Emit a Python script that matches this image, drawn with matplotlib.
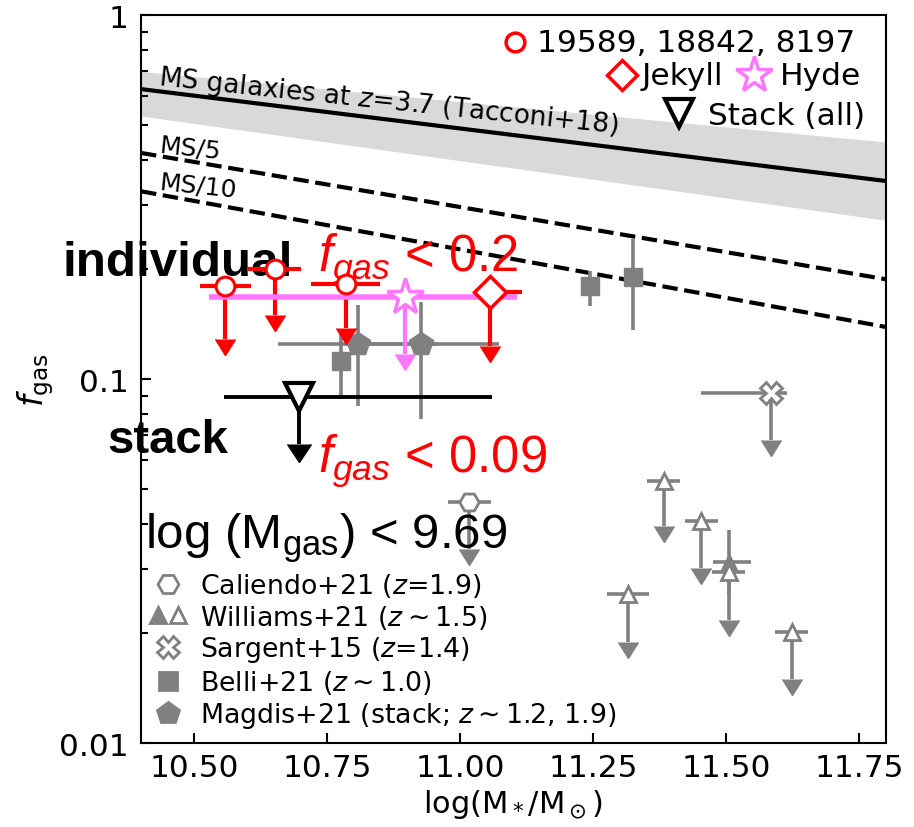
import numpy as np
import matplotlib
matplotlib.use("Agg")
import matplotlib.pyplot as plt
from matplotlib.lines import Line2D
from matplotlib.markers import CARETDOWNBASE
from matplotlib.legend_handler import HandlerTuple

plt.rcParams['mathtext.fontset'] = 'dejavusans'
# 'custom' math set is only used by the big annotation texts
plt.rcParams['mathtext.rm'] = 'Liberation Sans'
plt.rcParams['mathtext.it'] = 'Liberation Sans:italic'
plt.rcParams['mathtext.bf'] = 'Liberation Sans:bold'

GREY = '#808080'
RED = '#ff0000'
PINK = '#ff77ff'

# main sequence relation (Tacconi+18) and scaled versions
ms_x = [10.4, 11.8]
ms_f = [0.626, 0.350]
ms_lo = [0.528, 0.273]
ms_hi = [0.700, 0.448]
ms5_f = [0.418, 0.188]
ms10_f = [0.328, 0.139]

# individual objects (upper limits)
ind_x = [10.558, 10.651, 10.785]
ind_f = [0.180, 0.200, 0.182]
ind_xerr = [0.048, 0.050, 0.065]
ind_flim = [0.129, 0.150, 0.138]

jek_x = [11.056]
jek_f = [0.173]
jek_xerr = [[0.02], [0.06]]
jek_flim = [0.123]

hyde_x = [10.896]
hyde_f = [0.168]
hyde_xerr = [[0.368], [0.21]]
hyde_flim = [0.1175]

stack_x = [10.696]
stack_f = [0.089]
stack_xerr = [[0.14], [0.364]]
stack_flim = [0.0665]

# literature
magdis_x = [10.808, 10.927]
magdis_f = [0.125, 0.125]
magdis_xerr = [0.15, 0.146]
magdis_lo = [0.0843, 0.0776]
magdis_hi = [0.160, 0.163]

belli_x = [10.776, 11.244, 11.325]
belli_f = [0.112, 0.180, 0.191]
belli_lo = [0.089, 0.159, 0.136]
belli_hi = [0.135, 0.198, 0.243]

cal_x = [11.017]
cal_f = [0.0459]
cal_xerr = [0.04]
cal_flim = [0.0342]

sar_x = [11.584]
sar_f = [0.0916]
sar_xerr = [[0.131], [0.03]]
sar_flim = [0.0682]

wil_x = [11.382, 11.453, 11.504, 11.315, 11.623]
wil_f = [0.0525, 0.0407, 0.0295, 0.0257, 0.0202]
wil_xerr = [0.031, 0.031, 0.031, 0.039, 0.031]
wil_flim = [0.0394, 0.0303, 0.0218, 0.0190, 0.0150]

wild_x = [11.504]
wild_f = [0.0314]
wild_xerr = [[0.030], [0.043]]
wild_lo = [0.0256]
wild_hi = [0.0385]

xticks = [10.5, 10.75, 11.0, 11.25, 11.5, 11.75]
yticks = [0.01, 0.1, 1]


def upper_limits(ax, x, f, xerr, flim, color, lw, marker, ms, mfc, mew, z,
                 xlw=None, head=15):
    # stem + filled arrow head at the lower end, then the point with x errors
    ax.vlines(x, flim, f, colors=color, lw=lw, zorder=z)
    ax.plot(x, flim, ls='none', marker=CARETDOWNBASE, ms=head, color=color,
            mec=color, mfc=color, zorder=z)
    ax.errorbar(x, f, xerr=xerr, fmt=marker, ms=ms, mfc=mfc, mec=color,
                mew=mew, ecolor=color, elinewidth=xlw or lw, capsize=0,
                zorder=z)


def detections(ax, x, f, xerr, lo, hi, marker, ms, z):
    f = np.asarray(f)
    yerr = [f - np.asarray(lo), np.asarray(hi) - f]
    ax.errorbar(x, f, xerr=xerr, yerr=yerr, fmt=marker, ms=ms, mfc=GREY,
                mec=GREY, ecolor=GREY, elinewidth=2.6, capsize=0, zorder=z)


fig = plt.figure(figsize=(9.14, 8.28), dpi=100)
ax = fig.add_axes([0.1543, 0.1014, 0.8151, 0.8792])
ax.set_yscale('log')

# MS band and lines
ax.fill_between(ms_x, ms_lo, ms_hi, color='#d9d9d9', lw=0, zorder=1)
ax.plot(ms_x, ms_f, color='k', lw=3, zorder=1.5)
ax.plot(ms_x, ms5_f, color='k', ls='--', lw=3, zorder=1.5)
ax.plot(ms_x, ms10_f, color='k', ls='--', lw=3, zorder=1.5)
ax.text(10.431, 0.646, r'MS galaxies at $z$=3.7 (Tacconi+18)', fontsize=19,
        rotation=-6, rotation_mode='anchor', ha='left', va='baseline')
ax.text(10.433, 0.423, 'MS/5', fontsize=18, rotation=-6,
        rotation_mode='anchor', ha='left', va='baseline')
ax.text(10.433, 0.333, 'MS/10', fontsize=18, rotation=-6,
        rotation_mode='anchor', ha='left', va='baseline')

# literature samples
detections(ax, magdis_x, magdis_f, magdis_xerr, magdis_lo, magdis_hi, 'p', 18, 3)
detections(ax, belli_x, belli_f, None, belli_lo, belli_hi, 's', 13, 3)
detections(ax, wild_x, wild_f, wild_xerr, wild_lo, wild_hi, '^', 11.5, 3)
upper_limits(ax, cal_x, cal_f, cal_xerr, cal_flim, GREY, 2.6, 'H', 14,
             'white', 2, 3)
upper_limits(ax, sar_x, sar_f, sar_xerr, sar_flim, GREY, 2.6, 'X', 15.5,
             'white', 2, 3)
upper_limits(ax, wil_x, wil_f, wil_xerr, wil_flim, GREY, 2.6, '^', 11.5,
             'white', 2, 3)

# our galaxies
upper_limits(ax, stack_x, stack_f, stack_xerr, stack_flim, 'k', 2.8, 'v', 20,
             'white', 3, 4, head=17)
upper_limits(ax, ind_x, ind_f, ind_xerr, ind_flim, RED, 3, 'o', 13.5,
             'white', 2.2, 5)
upper_limits(ax, hyde_x, hyde_f, hyde_xerr, hyde_flim, PINK, 3, '*', 27,
             'white', 2.5, 5, xlw=4)
upper_limits(ax, jek_x, jek_f, jek_xerr, jek_flim, RED, 3, 'D', 16,
             'white', 2.5, 6)

ax.set_xlim(10.4, 11.8)
ax.set_ylim(0.01, 1)
ax.set_xticks(xticks)
ax.set_xticklabels(['%.2f' % t for t in xticks])
ax.set_yticks(yticks)
ax.set_yticklabels(['%g' % t for t in yticks])
ax.tick_params(axis='both', which='both', direction='in', width=1.5,
               labelsize=22.5)
ax.tick_params(axis='x', which='major', length=7, pad=7)
ax.tick_params(axis='y', which='major', length=7, pad=9)
ax.tick_params(axis='y', which='minor', length=5)
for sp in ax.spines.values():
    sp.set_linewidth(1.5)

ax.set_xlabel(r'log(M$_*$/M$_\odot$)', fontsize=22)
ax.set_ylabel(r'$f_{\rm gas}$', fontsize=24, labelpad=2)

# key for our objects, top right
tr = ax.transAxes
ax.plot([0.502], [0.963], 'o', ms=13.5, mfc='white', mec=RED, mew=2.5,
        transform=tr, clip_on=False)
ax.text(0.5315, 0.9505, '19589, 18842, 8197', fontsize=22.5, transform=tr,
        va='baseline')
ax.plot([0.6456], [0.917], 'D', ms=15, mfc='white', mec=RED, mew=2.5,
        transform=tr, clip_on=False)
ax.text(0.6725, 0.9052, 'Jekyll', fontsize=22.5, transform=tr, va='baseline')
ax.plot([0.8228], [0.917], '*', ms=27, mfc='white', mec=PINK, mew=2.5,
        transform=tr, clip_on=False)
ax.text(0.8577, 0.9052, 'Hyde', fontsize=22.5, transform=tr, va='baseline')
ax.plot([0.7221], [0.865], 'v', ms=20, mfc='white', mec='k', mew=3,
        transform=tr, clip_on=False)
ax.text(0.761, 0.8503, 'Stack (all)', fontsize=22.5, transform=tr,
        va='baseline')

# literature legend, bottom left
handles = [
    Line2D([], [], ls='none', marker='H', ms=15, mfc='white', mec=GREY, mew=2),
    (Line2D([], [], ls='none', marker='^', ms=11.5, mfc=GREY, mec=GREY, mew=2),
     Line2D([], [], ls='none', marker='^', ms=11.5, mfc='white', mec=GREY, mew=2)),
    Line2D([], [], ls='none', marker='X', ms=15.5, mfc='white', mec=GREY, mew=2),
    Line2D([], [], ls='none', marker='s', ms=13, mfc=GREY, mec=GREY, mew=2),
    Line2D([], [], ls='none', marker='p', ms=16, mfc=GREY, mec=GREY, mew=2),
]
labels = [r'Caliendo+21 ($z$=1.9)', r'Williams+21 ($z\sim1.5$)',
          r'Sargent+15 ($z$=1.4)', r'Belli+21 ($z\sim1.0$)',
          r'Magdis+21 (stack; $z\sim1.2$, 1.9)']
ax.legend(handles, labels, loc='lower left', bbox_to_anchor=(0.0094, 0.018),
          frameon=False, fontsize=19.3, borderpad=0, borderaxespad=0,
          handlelength=1.5, handletextpad=0.45, labelspacing=0.14,
          numpoints=1, handler_map={tuple: HandlerTuple(ndivide=None, pad=0)})

# annotations
ax.text(-0.106, 0.643, 'individual', fontsize=35.5, fontweight='bold',
        family='Liberation Sans', transform=tr, va='baseline')
ax.text(-0.0456, 0.40, 'stack', fontsize=34, fontweight='bold',
        family='Liberation Sans', transform=tr, va='baseline')
ax.text(0.2376, 0.651, r'$f_{gas}$ < 0.2', fontsize=36.5, color=RED,
        family='Liberation Sans', math_fontfamily='custom', transform=tr,
        va='baseline')
ax.text(0.2376, 0.374, r'$f_{gas}$ < 0.09', fontsize=36.5, color=RED,
        family='Liberation Sans', math_fontfamily='custom', transform=tr,
        va='baseline')
ax.text(0.005, 0.269, r'log (M$_{\rm gas}$) < 9.69', fontsize=35.5,
        family='Liberation Sans', math_fontfamily='custom', transform=tr,
        va='baseline')

fig.savefig('out.png', dpi=100)
